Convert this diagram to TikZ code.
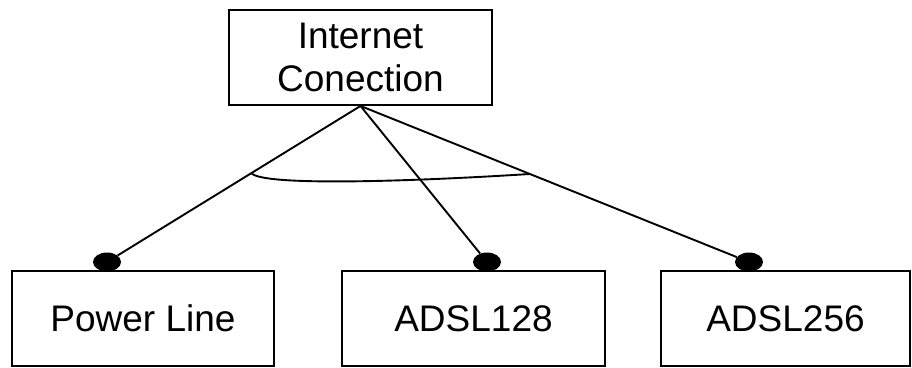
\documentclass[tikz,border=0pt]{standalone}
\usepackage{fontspec}
\setmainfont{Liberation Sans}
\usetikzlibrary{shapes.geometric,calc}
\tikzset{
  box/.style={draw, line width=1.9pt, minimum height=95pt, inner sep=0pt,
    font=\fontsize{37}{43}\selectfont, align=center},
  joint/.style={ellipse, fill=black, draw=none, minimum width=28pt,
    minimum height=19pt, inner sep=0pt},
  link/.style={line width=1.9pt}
}
\begin{document}
\begin{tikzpicture}[x=1pt, y=-1pt]
  \useasboundingbox (0,0) rectangle (912,367);
  % parent concept
  \node[box, minimum width=263pt] (inet) at (360.5,57.5) {Internet\\Conection};
  % alternatives
  \node[box, minimum width=262pt] (pl)  at (143,318.5) {Power Line};
  \node[box, minimum width=263pt] (a128) at (473.5,318.5) {ADSL128};
  \node[box, minimum width=249pt] (a256) at (785.5,318.5) {ADSL256};
  % attachment points on the children
  \node[joint] (d1) at (107,262) {};
  \node[joint] (d2) at (487,262) {};
  \node[joint] (d3) at (749,262) {};
  % links from the parent
  \draw[link] (inet.south) -- (d1);
  \draw[link] (inet.south) -- (d2);
  \draw[link] (inet.south) -- (d3);
  % grouping arc across the links
  \coordinate (g1) at ($(inet.south)!0.43!(d1)$);
  \coordinate (g2) at ($(inet.south)!0.436!(d3)$);
  \draw[link] (g1) .. controls +(10,13) and +(-127,8) .. (g2);
\end{tikzpicture}
\end{document}
